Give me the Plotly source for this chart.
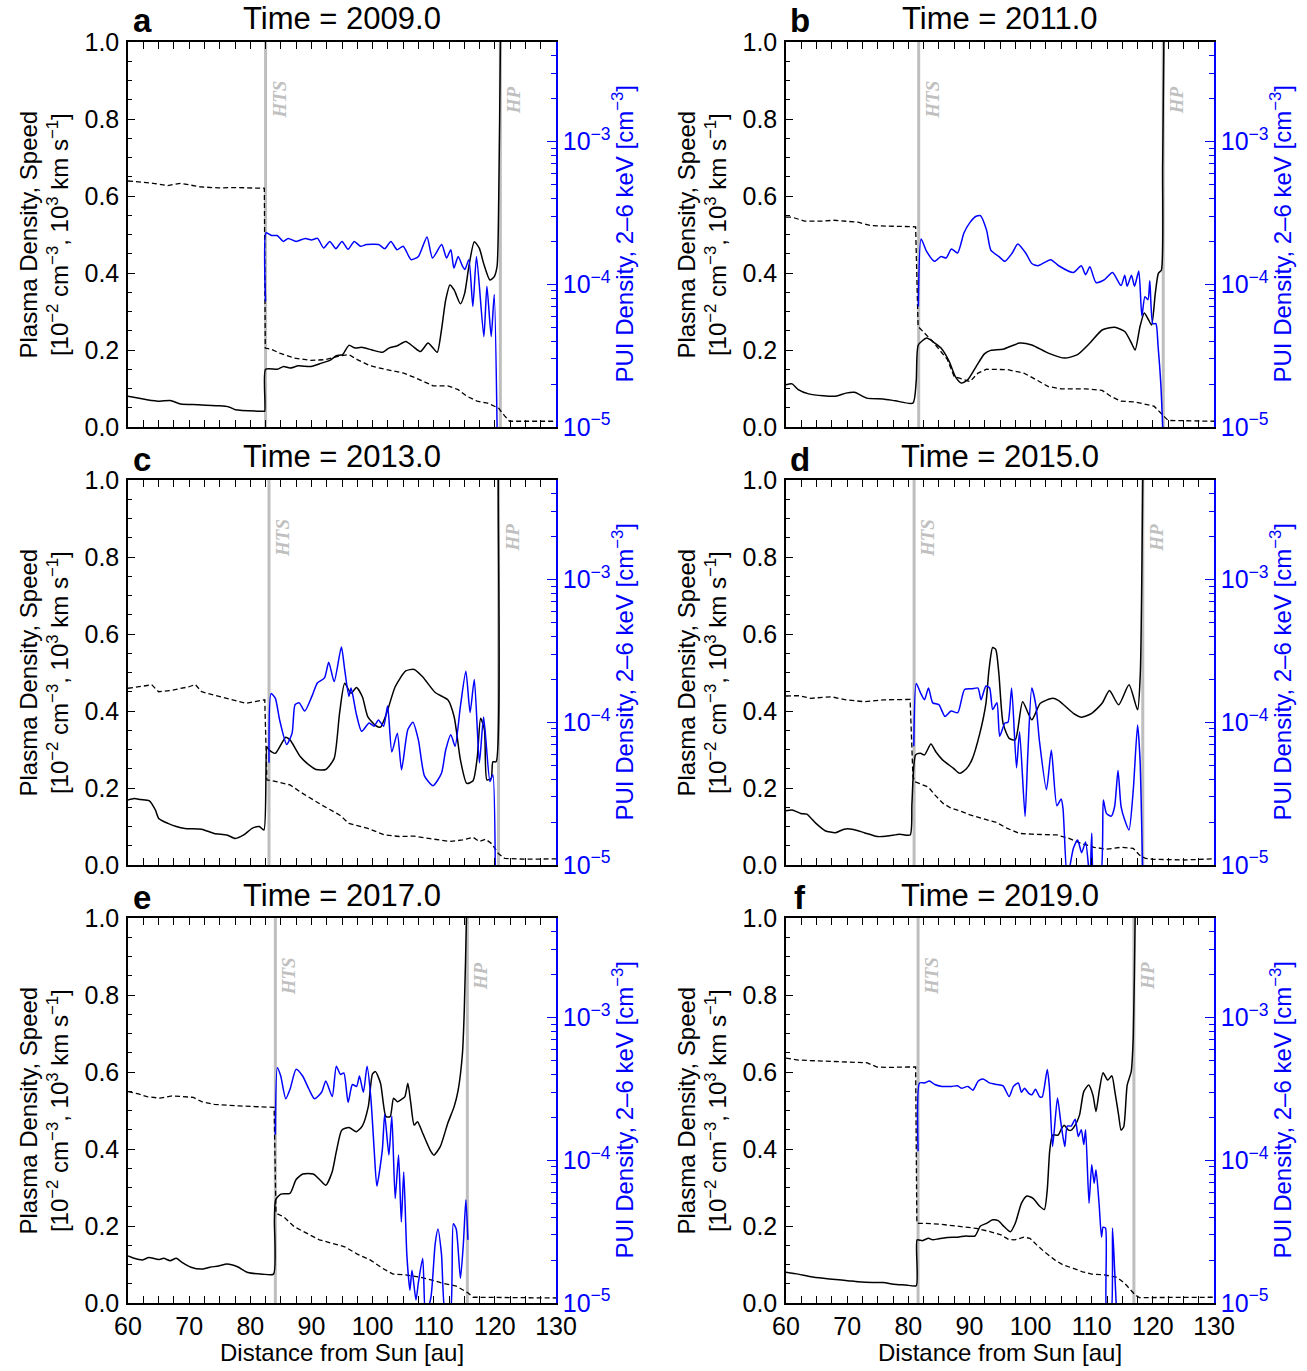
import math
import plotly.graph_objects as go

# ---------------------------------------------------------------------------
# Radial profiles (distance from Sun in au) at six epochs.
# dens  : plasma density  [1e-2 cm^-3]         (solid black, left axis)
# speed : flow speed      [1e3 km/s]           (dashed black, left axis)
# pui   : PUI density 2-6 keV [cm^-3]          (blue, right log axis)
# ---------------------------------------------------------------------------
letters = ["a", "b", "c", "d", "e", "f"]
years = ["2009.0", "2011.0", "2013.0", "2015.0", "2017.0", "2019.0"]
hts_au = [82.5, 81.7, 83.06, 80.95, 84.1, 81.6]
hp_au = [120.9, 121.7, 120.6, 118.35, 115.5, 116.9]

# ---- 2009.0 ----
dens_au_a = [60, 63.1, 65.2, 66.9, 68.6, 71.4, 74.8, 76.5, 77.55, 82.0, 82.35, 82.5, 84.43, 85.46, 86.5,
             87.87, 89.94, 91.66, 93.03, 94.07, 95.1, 96.13, 97.16, 98.2, 99.92, 101.64, 102.67, 104.05,
             105.42, 106.8, 107.83, 109.07, 109.9, 110.58, 111.27, 111.96, 112.65, 113.34, 114.37, 115.06,
             115.75, 116.64, 117.47, 118.16, 119.19, 119.88, 120.36, 120.63, 120.91, 121.1, 130]
dens_a = [0.080, 0.071, 0.067, 0.069, 0.060, 0.058, 0.055, 0.052, 0.045, 0.041, 0.041, 0.150, 0.150, 0.157,
          0.153, 0.159, 0.157, 0.166, 0.173, 0.185, 0.188, 0.212, 0.205, 0.207, 0.200, 0.194, 0.205, 0.211,
          0.222, 0.207, 0.196, 0.218, 0.205, 0.194, 0.252, 0.330, 0.369, 0.356, 0.320, 0.347, 0.417, 0.481,
          0.464, 0.425, 0.382, 0.390, 0.417, 0.590, 1.0, 1.4, 1.4]
speed_au_a = [60, 61.7, 64.1, 66.5, 68.6, 71.7, 74.8, 77.55, 82.3, 82.45, 83.4, 84.8, 87.2, 89.9, 92.35,
              94.76, 96.13, 97.5, 99.6, 102.3, 105.1, 107.1, 109.9, 112.3, 114.0, 115.4, 117.1, 118.8,
              120.6, 121.6, 122.4, 130]
speed_a = [0.639, 0.637, 0.633, 0.627, 0.633, 0.624, 0.621, 0.622, 0.62, 0.205, 0.202, 0.192, 0.179, 0.173,
           0.175, 0.185, 0.188, 0.175, 0.159, 0.149, 0.14, 0.127, 0.107, 0.107, 0.097, 0.08, 0.067, 0.062,
           0.049, 0.029, 0.015, 0.015]
pui_au_a = [82.5, 82.6, 83.5, 84.4, 85.4, 86.2, 87.5, 89.0, 90.0, 91.0, 92.0, 93.0, 94.0, 95.0, 96.0, 97.0,
            98.0, 99.0, 101.0, 102.0, 103.0, 104.0, 105.0, 106.3, 107.5, 108.9, 109.8, 111.3, 112.1, 112.8,
            113.3, 114.0, 114.7, 115.1, 115.75, 116.4, 117.0, 118.2, 118.7, 119.4, 119.9, 120.4]
pui_a = [7.6e-5, 2.3e-4, 2.2e-4, 2.2e-4, 2.0e-4, 2.1e-4, 2.0e-4, 2.1e-4, 2.05e-4, 2.1e-4, 1.8e-4, 2.0e-4,
         1.78e-4, 2.0e-4, 1.76e-4, 2.0e-4, 1.85e-4, 1.9e-4, 1.9e-4, 1.78e-4, 2.0e-4, 1.75e-4, 1.85e-4,
         1.49e-4, 1.57e-4, 2.15e-4, 1.53e-4, 1.9e-4, 1.53e-4, 1.75e-4, 1.3e-4, 1.57e-4, 1.34e-4, 1.27e-4,
         1.49e-4, 7.0e-5, 1.57e-4, 4.3e-5, 9.7e-5, 4.3e-5, 8.5e-5, 8e-6]

# ---- 2011.0 ----
dens_au_b = [60, 61.0, 62.0, 63.7, 66.1, 68.1, 69.8, 71.2, 73.2, 75.9, 77.9, 80.76, 81.3, 81.64, 83.0, 84.0,
             85.35, 86.7, 87.7, 88.7, 89.75, 91.1, 92.45, 93.47, 95.5, 98.2, 100.2, 102.9, 105.6, 107.67,
             109.7, 111.7, 113.75, 115.4, 116.5, 117.1, 117.9, 118.6, 119.3, 119.8, 120.4, 120.9, 121.4,
             121.6, 121.8, 122.0, 130]
dens_b = [0.110, 0.112, 0.097, 0.086, 0.081, 0.080, 0.088, 0.090, 0.075, 0.073, 0.068, 0.062, 0.12, 0.213,
          0.231, 0.222, 0.205, 0.170, 0.131, 0.114, 0.123, 0.157, 0.190, 0.199, 0.202, 0.218, 0.213, 0.192,
          0.179, 0.188, 0.218, 0.252, 0.259, 0.248, 0.218, 0.200, 0.261, 0.296, 0.278, 0.265, 0.347, 0.399,
          0.408, 0.676, 1.0, 1.4, 1.4]
speed_au_b = [60, 61.0, 63.0, 66.1, 67.8, 71.8, 73.9, 81.2, 81.6, 82.65, 84.0, 86.4, 87.5, 89.1, 90.1, 91.4,
              92.8, 96.2, 98.9, 100.9, 102.9, 105.0, 109.0, 111.7, 113.1, 114.8, 117.1, 120.2, 121.5, 122.5,
              130]
speed_b = [0.545, 0.545, 0.535, 0.535, 0.537, 0.532, 0.523, 0.52, 0.261, 0.244, 0.222, 0.175, 0.131, 0.123,
           0.118, 0.14, 0.15, 0.149, 0.14, 0.123, 0.105, 0.099, 0.099, 0.095, 0.08, 0.067, 0.065, 0.054,
           0.032, 0.017, 0.015]
pui_au_b = [81.64, 82.1, 83.0, 84.3, 85.35, 86.2, 87.05, 88.06, 89.1, 90.1, 91.1, 91.8, 92.8, 93.5, 94.8,
            95.8, 97.0, 97.9, 99.2, 100.2, 101.2, 103.3, 104.6, 107.0, 108.3, 109.0, 109.7, 110.7, 112.1,
            113.4, 114.8, 115.4, 115.8, 116.5, 117.0, 117.7, 118.2, 118.7, 119.2, 119.5, 120.0, 120.5,
            120.85, 121.3, 121.7]
pui_b = [7.0e-5, 2.08e-4, 1.70e-4, 1.45e-4, 1.57e-4, 1.53e-4, 1.77e-4, 1.66e-4, 2.29e-4, 2.72e-4, 3.0e-4,
         3.03e-4, 2.4e-4, 1.74e-4, 1.57e-4, 1.45e-4, 1.66e-4, 1.92e-4, 1.66e-4, 1.4e-4, 1.35e-4, 1.49e-4,
         1.35e-4, 1.21e-4, 1.35e-4, 1.17e-4, 1.33e-4, 1.03e-4, 1.08e-4, 1.21e-4, 9.8e-5, 1.16e-4, 9.7e-5,
         1.16e-4, 9.7e-5, 1.24e-4, 6.0e-5, 8.2e-5, 7.8e-5, 1.06e-4, 5.3e-5, 5.3e-5, 3.7e-5, 2.0e-5, 8e-6]

# ---- 2013.0 ----
dens_au_c = [60, 61.03, 62.06, 63.44, 64.47, 65.02, 66.54, 67.9, 69.3, 72.04, 74.1, 76.17, 77.55, 78.93,
             80.3, 81.47, 82.23, 82.71, 83.06, 84.09, 85.8, 86.5, 88.2, 89.6, 90.76, 92.35, 93.72, 94.6,
             95.44, 96.48, 97.37, 98.33, 99.23, 100.6, 101.3, 102.3, 103.7, 105.42, 106.8, 108.18, 110.24,
             112.3, 113.34, 114.37, 115.4, 116.44, 117.13, 117.67, 118.3, 118.7, 119.4, 119.67, 120.2,
             120.56, 120.8, 130]
dens_c = [0.169, 0.173, 0.170, 0.167, 0.143, 0.121, 0.108, 0.100, 0.095, 0.093, 0.082, 0.078, 0.069, 0.078,
          0.095, 0.100, 0.091, 0.307, 0.299, 0.290, 0.332, 0.325, 0.281, 0.260, 0.248, 0.248, 0.277, 0.394,
          0.472, 0.446, 0.461, 0.437, 0.385, 0.361, 0.358, 0.394, 0.463, 0.504, 0.508, 0.489, 0.448, 0.429,
          0.385, 0.273, 0.212, 0.219, 0.281, 0.381, 0.351, 0.221, 0.225, 0.268, 0.268, 1.0, 1.4, 1.4]
speed_au_c = [60, 62.06, 63.9, 65.0, 66.9, 70.0, 71.0, 72.04, 74.1, 76.17, 79.3, 82.37, 82.71, 83.6, 86.5,
              88.56, 91.66, 94.6, 96.13, 99.23, 101.98, 104.39, 106.8, 109.2, 112.65, 114.7, 116.44, 117.47,
              118.5, 119.5, 120.56, 121.6, 125, 130]
speed_c = [0.459, 0.463, 0.468, 0.45, 0.453, 0.463, 0.469, 0.45, 0.442, 0.433, 0.42, 0.429, 0.221, 0.219,
           0.208, 0.186, 0.156, 0.13, 0.108, 0.095, 0.078, 0.074, 0.075, 0.069, 0.061, 0.065, 0.072, 0.061,
           0.067, 0.055, 0.03, 0.017, 0.015, 0.016]
pui_au_c = [83.06, 83.4, 84.09, 84.8, 85.95, 86.84, 87.32, 88.0, 88.9, 90.07, 90.97, 92.14, 92.83, 93.72,
            94.9, 95.44, 96.13, 96.48, 97.37, 98.2, 99.44, 100.26, 100.95, 101.8, 102.46, 103.15, 104.05,
            104.74, 105.77, 106.6, 107.5, 108.5, 109.9, 111.27, 111.96, 112.8, 113.5, 114.37, 115.26, 115.95,
            116.64, 117.47, 118.16, 119.2, 119.67, 120.08]
pui_c = [5.2e-5, 1.59e-4, 1.48e-4, 1.04e-4, 7.0e-5, 8.4e-5, 1.33e-4, 1.37e-4, 1.2e-4, 1.52e-4, 1.89e-4,
         2.05e-4, 2.64e-4, 1.93e-4, 3.38e-4, 2.34e-4, 1.52e-4, 1.74e-4, 1.13e-4, 8.65e-5, 9.9e-5, 9.4e-5,
         1.04e-4, 9.4e-5, 1.3e-4, 6.2e-5, 8.4e-5, 4.65e-5, 8.9e-5, 1.0e-4, 7.5e-5, 4.2e-5, 3.6e-5, 4.4e-5,
         6.4e-5, 8.2e-5, 6.8e-5, 1.3e-4, 2.28e-4, 1.17e-4, 2.0e-4, 5.2e-5, 1.09e-4, 3.85e-5, 4.3e-5, 8e-6]

# ---- 2015.0 ----
dens_au_d = [60, 61.0, 62.4, 63.4, 64.9, 66.4, 68.1, 69.5, 70.8, 72.8, 74.9, 76.6, 78.6, 80.3, 80.6, 81.2,
             82.0, 82.65, 83.7, 84.5, 85.6, 87.4, 88.4, 89.5, 90.4, 91.7, 92.7, 93.2, 93.8, 94.3, 94.8, 95.5,
             96.5, 97.5, 98.7, 100.2, 101.6, 103.6, 104.6, 107.0, 108.35, 110.0, 111.7, 112.9, 114.4, 116.1,
             117.5, 117.95, 118.35, 118.6, 130]
dens_d = [0.141, 0.143, 0.134, 0.132, 0.108, 0.089, 0.084, 0.093, 0.093, 0.084, 0.074, 0.075, 0.080, 0.078,
          0.160, 0.286, 0.290, 0.286, 0.314, 0.294, 0.273, 0.251, 0.238, 0.250, 0.273, 0.342, 0.420, 0.507,
          0.565, 0.560, 0.500, 0.368, 0.329, 0.325, 0.424, 0.377, 0.420, 0.433, 0.427, 0.394, 0.384, 0.394,
          0.420, 0.453, 0.416, 0.468, 0.403, 0.498, 1.0, 1.4, 1.4]
speed_au_d = [60, 62.0, 64.06, 66.1, 67.4, 69.8, 72.85, 75.9, 80.3, 80.76, 81.1, 82.1, 83.3, 84.34, 85.7,
              87.05, 88.4, 90.1, 92.1, 94.5, 96.2, 98.2, 100.2, 104.3, 106.3, 108.3, 110.4, 112.4, 114.8,
              116.8, 117.8, 118.8, 120, 125, 130]
speed_d = [0.439, 0.44, 0.433, 0.436, 0.437, 0.429, 0.424, 0.429, 0.43, 0.23, 0.216, 0.21, 0.202, 0.182,
           0.16, 0.147, 0.141, 0.13, 0.121, 0.11, 0.095, 0.082, 0.08, 0.078, 0.069, 0.056, 0.046, 0.041,
           0.046, 0.043, 0.026, 0.017, 0.015, 0.013, 0.016]
pui_au_d = [80.9, 81.3, 82.0, 82.65, 83.3, 84.0, 85.0, 86.0, 87.0, 88.1, 89.2, 90.4, 91.4, 91.9, 92.7, 93.3,
            93.8, 94.5, 94.95, 95.8, 96.3, 96.9, 97.7, 98.2, 99.1, 99.55, 100.2, 100.9, 101.45, 102.6, 103.4,
            104.3, 105.0, 105.3, 106.0, 107.0, 107.7, 108.35, 109.0, 109.7, 110.0, 110.4, 111.4, 111.9,
            112.4, 113.2, 113.75, 114.3, 114.8, 115.4, 116.1, 116.8, 117.5, 117.9, 118.35]
pui_d = [6.8e-5, 1.87e-4, 1.61e-4, 1.44e-4, 1.74e-4, 1.37e-4, 1.33e-4, 1.1e-4, 1.2e-4, 1.17e-4, 1.7e-4,
         1.72e-4, 1.74e-4, 1.44e-4, 1.8e-4, 1.74e-4, 1.23e-4, 1.37e-4, 8.0e-5, 9.9e-5, 1.0e-4, 1.74e-4,
         4.8e-5, 8.6e-5, 2.19e-5, 6.0e-5, 1.74e-4, 1.29e-4, 7.4e-5, 3.37e-5, 6.4e-5, 2.6e-5, 2.9e-5,
         2.5e-5, 8e-6, 1.31e-5, 1.5e-5, 1.22e-5, 1.45e-5, 8e-6, 1.67e-5, 8e-6, 8e-6, 2.86e-5, 2.3e-5,
         2.2e-5, 2.57e-5, 4.6e-5, 2.57e-5, 2.07e-5, 1.76e-5, 3.37e-5, 9.6e-5, 5.5e-5, 8e-6]

# ---- 2017.0 ----
dens_au_e = [60, 61.0, 62.4, 63.4, 65.0, 65.85, 66.9, 67.9, 68.9, 70.3, 72.0, 73.4, 74.8, 76.2, 77.9, 79.6,
             82.0, 83.8, 83.95, 84.15, 85.0, 86.5, 87.5, 88.6, 90.3, 91.45, 92.35, 93.4, 94.07, 94.96, 96.13,
             97.37, 98.33, 99.3, 99.99, 100.47, 101.3, 102.19, 102.88, 103.43, 104.05, 104.74, 105.29,
             105.77, 106.25, 106.8, 107.35, 108.2, 109.55, 110.03, 111.07, 112.3, 113.34, 114.0, 114.7,
             115.0, 115.35, 115.6, 130]
dens_e = [0.122, 0.116, 0.112, 0.118, 0.113, 0.116, 0.11, 0.116, 0.105, 0.093, 0.088, 0.093, 0.096, 0.101,
          0.094, 0.079, 0.075, 0.075, 0.216, 0.268, 0.283, 0.285, 0.321, 0.335, 0.335, 0.319, 0.306, 0.341,
          0.393, 0.449, 0.456, 0.445, 0.46, 0.51, 0.595, 0.601, 0.571, 0.484, 0.484, 0.532, 0.523, 0.529,
          0.536, 0.571, 0.519, 0.462, 0.471, 0.441, 0.393, 0.384, 0.406, 0.467, 0.51, 0.553, 0.648, 0.761,
          1.0, 1.4, 1.4]
speed_au_e = [60, 61.7, 63.1, 65.2, 67.2, 69.3, 70.7, 72.04, 74.1, 78.2, 83.9, 84.2, 85.46, 87.2, 89.25,
              91.3, 93.4, 95.44, 97.5, 99.6, 101.64, 103.36, 105.4, 107.5, 109.55, 111.6, 113.68, 115.54,
              116.44, 130]
speed_e = [0.549, 0.543, 0.536, 0.532, 0.538, 0.536, 0.534, 0.523, 0.516, 0.512, 0.508, 0.233, 0.224, 0.198,
           0.181, 0.164, 0.155, 0.146, 0.127, 0.112, 0.09, 0.075, 0.073, 0.068, 0.06, 0.051, 0.044, 0.027,
           0.015, 0.013]
pui_au_e = [84.1, 84.43, 84.98, 85.8, 86.5, 87.5, 88.56, 89.6, 90.5, 91.66, 92.35, 93.4, 94.07, 94.76, 95.3,
            96.0, 96.7, 97.4, 97.85, 98.5, 99.1, 99.7, 100.26, 100.7, 101.6, 101.98, 102.67, 103.15, 103.7,
            104.25, 104.7, 105.1, 105.6, 106.1, 106.45, 107.1, 107.5, 108.2, 108.66, 109.55, 110.24, 110.7,
            111.27, 111.96, 112.65, 113.2, 113.68, 114.37, 114.85, 115.26, 115.6]
pui_e = [1.51e-4, 4.46e-4, 3.9e-4, 2.7e-4, 3.15e-4, 4.35e-4, 3.9e-4, 3.15e-4, 2.7e-4, 3.0e-4, 3.6e-4,
         2.8e-4, 4.57e-4, 4.0e-4, 4.1e-4, 2.55e-4, 3.4e-4, 3.3e-4, 3.9e-4, 3.0e-4, 4.57e-4, 2.8e-4, 1.19e-4,
         6.6e-5, 1.19e-4, 2.1e-4, 1.09e-4, 2.05e-4, 5.4e-5, 1.09e-4, 3.7e-5, 8.3e-5, 2.2e-5, 1.23e-5, 1.7e-5,
         1.05e-5, 1.4e-5, 2.06e-5, 8e-6, 1.1e-5, 2.6e-5, 3.3e-5, 2.2e-5, 8e-6, 8e-6, 3.6e-5, 3.3e-5, 1.49e-5,
         2.6e-5, 5.3e-5, 2.77e-5]

# ---- 2019.0 ----
dens_au_f = [60, 62.0, 64.06, 66.1, 68.1, 70.1, 71.8, 74.2, 75.9, 77.6, 79.6, 81.3, 81.45, 82.3, 83.3, 84.0,
             85.0, 86.4, 88.06, 89.4, 90.9, 91.8, 92.8, 93.8, 94.7, 95.7, 96.7, 97.5, 98.5, 99.4, 100.4,
             101.45, 102.26, 102.73, 103.14, 103.6, 104.5, 105.1, 105.5, 106.2, 106.65, 107.3, 108.0, 108.7,
             109.5, 110.2, 110.7, 111.25, 111.86, 112.6, 113.3, 113.75, 114.4, 114.8, 115.24, 115.8, 116.46,
             116.8, 117.1, 117.3, 130]
dens_f = [0.080, 0.075, 0.068, 0.064, 0.061, 0.058, 0.055, 0.053, 0.053, 0.049, 0.047, 0.045, 0.164, 0.162,
          0.168, 0.164, 0.167, 0.17, 0.171, 0.174, 0.174, 0.2, 0.207, 0.216, 0.214, 0.198, 0.185, 0.207,
          0.259, 0.278, 0.272, 0.252, 0.243, 0.294, 0.397, 0.436, 0.436, 0.454, 0.462, 0.449, 0.449, 0.462,
          0.488, 0.549, 0.566, 0.54, 0.497, 0.553, 0.598, 0.579, 0.59, 0.553, 0.488, 0.449, 0.458, 0.566,
          0.601, 0.692, 1.0, 1.4, 1.4]
speed_au_f = [60, 62.0, 65.07, 68.1, 71.16, 73.2, 74.9, 76.9, 79.9, 81.2, 81.4, 82.65, 85.0, 88.06, 91.1,
              93.47, 95.16, 96.4, 97.4, 98.9, 99.9, 101.0, 102.26, 103.95, 105.3, 107.0, 108.5, 110.0,
              112.06, 114.1, 115.4, 117.1, 117.8, 130]
speed_f = [0.636, 0.631, 0.629, 0.627, 0.625, 0.624, 0.613, 0.612, 0.613, 0.613, 0.207, 0.207, 0.205, 0.2,
           0.194, 0.185, 0.177, 0.165, 0.164, 0.171, 0.168, 0.151, 0.133, 0.112, 0.099, 0.09, 0.081, 0.075,
           0.073, 0.067, 0.051, 0.021, 0.014, 0.015]
pui_au_f = [81.6, 81.84, 82.65, 83.46, 84.34, 85.5, 87.05, 88.06, 88.7, 89.75, 90.56, 91.44, 92.25, 93.27,
            94.48, 95.5, 96.5, 97.2, 98.0, 98.5, 99.0, 99.7, 100.2, 100.8, 101.45, 101.9, 102.73, 103.07,
            103.6, 104.4, 104.96, 105.6, 106.0, 106.65, 107.3, 107.8, 108.3, 108.7, 109.0, 109.56, 110.0,
            110.4, 110.7, 111.2, 111.6, 111.86, 112.26, 112.5, 113.1, 113.4, 113.75, 114.1]
pui_f = [1.16e-4, 3.49e-4, 3.49e-4, 3.6e-4, 3.4e-4, 3.3e-4, 3.3e-4, 3.33e-4, 3.2e-4, 3.3e-4, 3.1e-4, 3.6e-4,
         3.72e-4, 3.49e-4, 3.4e-4, 3.33e-4, 2.8e-4, 3.3e-4, 3.49e-4, 3.0e-4, 3.2e-4, 2.95e-4, 2.88e-4,
         3.15e-4, 2.8e-4, 2.78e-4, 4.34e-4, 3.3e-4, 1.25e-4, 2.74e-4, 1.83e-4, 1.25e-4, 1.74e-4, 1.74e-4,
         1.94e-4, 1.47e-4, 1.64e-4, 1.29e-4, 1.64e-4, 5.0e-5, 9.3e-5, 6.9e-5, 8.6e-5, 5.0e-5, 2.9e-5, 3.4e-5,
         3.35e-5, 8e-6, 8e-6, 3.35e-5, 1.7e-5, 8e-6]

x_ticks = [60, 70, 80, 90, 100, 110, 120, 130]
pui_ticks = [1e-5, 1e-4, 1e-3]
pui_ticktext = ["10<sup>\u22125</sup>", "10<sup>\u22124</sup>", "10<sup>\u22123</sup>"]

dens_sets = [(dens_au_a, dens_a), (dens_au_b, dens_b), (dens_au_c, dens_c),
             (dens_au_d, dens_d), (dens_au_e, dens_e), (dens_au_f, dens_f)]
speed_sets = [(speed_au_a, speed_a), (speed_au_b, speed_b), (speed_au_c, speed_c),
              (speed_au_d, speed_d), (speed_au_e, speed_e), (speed_au_f, speed_f)]
pui_sets = [(pui_au_a, pui_a), (pui_au_b, pui_b), (pui_au_c, pui_c),
            (pui_au_d, pui_d), (pui_au_e, pui_e), (pui_au_f, pui_f)]

# ---------------------------------------------------------------------------
W, H = 1307, 1371
FONT = "Liberation Sans, Arial, Helvetica, sans-serif"
BLUE = "#0000ff"
GRAY = "#bebebe"

col_left = [128, 786]
col_right = [556, 1214]
row_top = [42, 480, 918]
row_bot = [427, 865, 1303]

minor_log = [m * 10.0 ** e for e in (-5, -4, -3) for m in range(2, 10) if m * 10.0 ** e <= 5e-3]


def suffix(n):
    return "" if n == 1 else str(n)


fig = go.Figure()
layout = dict(
    width=W, height=H, autosize=False,
    margin=dict(l=0, r=0, t=0, b=0, pad=0, autoexpand=False),
    paper_bgcolor="white", plot_bgcolor="white",
    showlegend=False,
    font=dict(family=FONT, size=24, color="black"),
)
annotations = []
shapes = []

for i in range(6):
    k = suffix(i + 1)
    kr = suffix(i + 7)
    r, c = divmod(i, 2)
    x0, x1 = col_left[c], col_right[c]
    yt, yb = row_top[r], row_bot[r]
    xdom = [x0 / W, x1 / W]
    ydom = [1 - yb / H, 1 - yt / H]

    layout[f"xaxis{k}"] = dict(
        domain=xdom, range=[60, 130], anchor=f"y{k}", automargin=False,
        tickmode="array", tickvals=x_ticks, ticks="inside", ticklen=7, tickwidth=1.2,
        tickcolor="black", showticklabels=(r == 2), ticklabelstandoff=0,
        tickfont=dict(size=25, family=FONT),
        minor=dict(ticks="inside", ticklen=4, tickwidth=1.2, tickcolor="black",
                   tickmode="linear", tick0=60, dtick=2.5),
        showline=True, linecolor="black", linewidth=1.5, mirror="allticks",
        showgrid=False, zeroline=False,
    )
    layout[f"yaxis{k}"] = dict(
        domain=ydom, range=[0, 1], anchor=f"x{k}", automargin=False,
        tickmode="linear", tick0=0, dtick=0.2, tickformat=".1f",
        ticks="inside", ticklen=7, tickwidth=1.2, tickcolor="black", ticklabelstandoff=2,
        tickfont=dict(size=25, family=FONT),
        minor=dict(ticks="inside", ticklen=4, tickwidth=1.2, tickcolor="black",
                   tickmode="linear", tick0=0, dtick=0.05),
        showline=True, linecolor="black", linewidth=1.5, mirror=False,
        showgrid=False, zeroline=False,
    )
    layout[f"yaxis{kr}"] = dict(
        overlaying=f"y{k}", side="right", anchor=f"x{k}", automargin=False,
        type="log", range=[-5, math.log10(5e-3)],
        tickmode="array", tickvals=pui_ticks, ticktext=pui_ticktext,
        ticks="inside", ticklen=9, tickwidth=1.2, tickcolor=BLUE, ticklabelstandoff=0,
        tickfont=dict(size=25, family=FONT, color=BLUE),
        minor=dict(ticks="inside", ticklen=5, tickwidth=1.2, tickcolor=BLUE,
                   tickmode="array", tickvals=minor_log),
        showline=True, linecolor=BLUE, linewidth=1.5,
        showgrid=False, zeroline=False,
    )

    # heliospheric boundaries
    for xb, lab in ((hts_au[i], "HTS"), (hp_au[i], "HP")):
        shapes.append(dict(type="line", xref=f"x{k}", yref=f"y{k} domain",
                           x0=xb, x1=xb, y0=0, y1=1, layer="below",
                           line=dict(color=GRAY, width=3)))
        annotations.append(dict(
            x=xb, xref=f"x{k}", y=1 - 58 / (yb - yt), yref=f"y{k} domain",
            xshift=13, text=f"<b><i>{lab}</i></b>", showarrow=False, textangle=-90,
            xanchor="center", yanchor="middle",
            font=dict(family="Liberation Serif, Times New Roman, serif", size=19, color="#c0c0c0"),
        ))

    dx, dy = dens_sets[i]
    sx, sy = speed_sets[i]
    px, py = pui_sets[i]
    fig.add_trace(go.Scatter(x=sx, y=sy, mode="lines", xaxis=f"x{k}", yaxis=f"y{k}",
                             line=dict(color="black", width=1.3, dash="5px,3px")))
    fig.add_trace(go.Scatter(x=dx, y=dy, mode="lines", xaxis=f"x{k}", yaxis=f"y{k}",
                             line=dict(color="black", width=1.5, shape="spline", smoothing=0.6)))
    fig.add_trace(go.Scatter(x=px, y=py, mode="lines", xaxis=f"x{k}", yaxis=f"y{kr}",
                             line=dict(color=BLUE, width=1.5, shape="spline", smoothing=0.6)))

    # panel letter and epoch title
    cx = (x0 + x1) / 2
    annotations.append(dict(x=cx / W, y=1 - (yt - 23) / H, xref="paper", yref="paper",
                            text=f"Time = {years[i]}", showarrow=False,
                            xanchor="center", yanchor="middle",
                            font=dict(family=FONT, size=31, color="black")))
    annotations.append(dict(x=(x0 + 14) / W, y=1 - (yt - 21) / H, xref="paper", yref="paper",
                            text=f"<b>{letters[i]}</b>", showarrow=False,
                            xanchor="center", yanchor="middle",
                            font=dict(family=FONT, size=33, color="black")))

    # axis titles
    cy = (yt + yb) / 2
    annotations.append(dict(
        x=(x0 - 85) / W, y=1 - cy / H, xref="paper", yref="paper", showarrow=False,
        text="Plasma Density, Speed<br>[10<sup>\u22122</sup> cm<sup>\u22123</sup>, "
             "10<sup>3</sup> km s<sup>\u22121</sup>]",
        textangle=-90, xanchor="center", yanchor="middle",
        font=dict(family=FONT, size=24, color="black")))
    annotations.append(dict(
        x=(x1 + 66) / W, y=1 - cy / H, xref="paper", yref="paper", showarrow=False,
        text="PUI Density, 2\u20136 keV [cm<sup>\u22123</sup>]",
        textangle=-90, xanchor="center", yanchor="middle",
        font=dict(family=FONT, size=24, color=BLUE)))
    if r == 2:
        annotations.append(dict(
            x=cx / W, y=1 - 1352 / H, xref="paper", yref="paper", showarrow=False,
            text="Distance from Sun [au]", xanchor="center", yanchor="middle",
            font=dict(family=FONT, size=24, color="black")))

layout["annotations"] = annotations
layout["shapes"] = shapes
fig.update_layout(**layout)
fig.write_html("out.html")
